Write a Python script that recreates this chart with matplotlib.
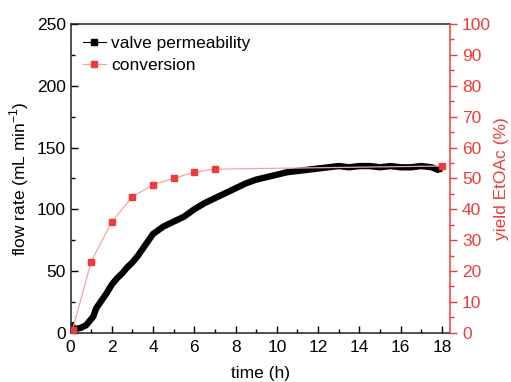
import matplotlib
matplotlib.use("Agg")
import matplotlib.pyplot as plt
from matplotlib.lines import Line2D

plt.rcParams['font.family'] = ['Liberation Sans', 'DejaVu Sans']

# flow rate data (valve permeability)
time_flow = [0.0, 0.1, 0.25, 0.5, 0.75, 1.0, 1.1, 1.25, 1.5, 1.75, 2.0, 2.25, 2.5, 2.75,
             3.0, 3.25, 3.5, 3.75, 4.0, 4.25, 4.5, 4.75, 5.0, 5.5, 6.0, 6.5, 7.0, 7.5,
             8.0, 8.5, 9.0, 9.5, 10.0, 10.5, 11.0, 11.5, 12.0, 12.5, 13.0, 13.5, 14.0,
             14.5, 15.0, 15.5, 16.0, 16.5, 17.0, 17.5, 17.8, 18.0]
flow_rate = [8, 4, 3, 4, 6, 11, 13, 20, 26, 32, 39, 44, 48, 53,
             57, 62, 68, 74, 80, 83, 86, 88, 90, 94, 100, 105, 109, 113,
             117, 121, 124, 126, 128, 130, 131, 132, 133, 134, 135, 134, 135,
             135, 134, 135, 134, 134, 135, 134, 132, 133]

# conversion data (yield EtOAc %)
time_conv = [0.1, 1, 2, 3, 4, 5, 6, 7, 18]
yield_conv = [1, 23, 36, 44, 48, 50, 52, 53, 54]

RED = '#ee3b3b'
PINK = '#f7a3a3'

fig = plt.figure(figsize=(5.11, 3.82), dpi=100)
ax = fig.add_axes([0.138, 0.129, 0.743, 0.808])
ax2 = ax.twinx()

ax.plot(time_flow, flow_rate, '-', color='black', lw=4.6, solid_capstyle='butt',
        solid_joinstyle='miter')
ax2.plot(time_conv, yield_conv, '-', color=PINK, lw=0.9, zorder=2)
ax2.plot(time_conv, yield_conv, 's', color=RED, ms=5, lw=0, zorder=3)

ax.set_xlim(0, 18.4)
ax.set_ylim(0, 250)
ax2.set_ylim(0, 100)

ax.set_xticks(range(0, 19, 2))
ax.set_xticks(range(1, 19, 2), minor=True)
ax.set_yticks(range(0, 251, 50))
ax.set_yticks(range(25, 250, 50), minor=True)
ax2.set_yticks(range(0, 101, 10))
ax2.set_yticks(range(5, 100, 10), minor=True)

fs = 12.5
ax.tick_params(axis='both', which='major', direction='in', length=5, width=1, labelsize=fs, top=False, right=False)
ax.tick_params(axis='both', which='minor', direction='in', length=3, width=1, top=False, right=False)
ax.tick_params(axis='x', pad=5)
ax2.tick_params(axis='y', which='major', direction='out', length=5, width=1, colors=RED, labelsize=fs)
ax2.tick_params(axis='y', which='minor', direction='out', length=3, width=1, colors=RED)

for s in ['left', 'bottom', 'top']:
    ax.spines[s].set_linewidth(1.1)
    ax.spines[s].set_color('#222222')
ax2.spines['right'].set_color(RED)
ax2.spines['right'].set_linewidth(1.1)
ax2.spines['left'].set_visible(False)
ax2.spines['top'].set_visible(False)
ax2.spines['bottom'].set_visible(False)
ax.spines['right'].set_visible(False)

ax.set_xlabel('time (h)', fontsize=fs, labelpad=8)
ax.set_ylabel('flow rate (mL min$^{\\mathregular{-1}}$)', fontsize=fs, labelpad=4)
ax2.set_ylabel('yield EtOAc (%)', fontsize=fs, color=RED, labelpad=2)

h1 = Line2D([], [], color='black', lw=0.8, marker='s', ms=4, label='valve permeability')
h2 = Line2D([], [], color=PINK, lw=0.9, marker='s', ms=5, markerfacecolor=RED,
            markeredgecolor=RED, label='conversion')
ax2.legend(handles=[h1, h2], loc='upper left', frameon=False, fontsize=fs,
           handlelength=1.35, handletextpad=0.3, labelspacing=0.35,
           borderaxespad=0.3, bbox_to_anchor=(0.0, 1.0))

fig.savefig('out.png', dpi=100)
